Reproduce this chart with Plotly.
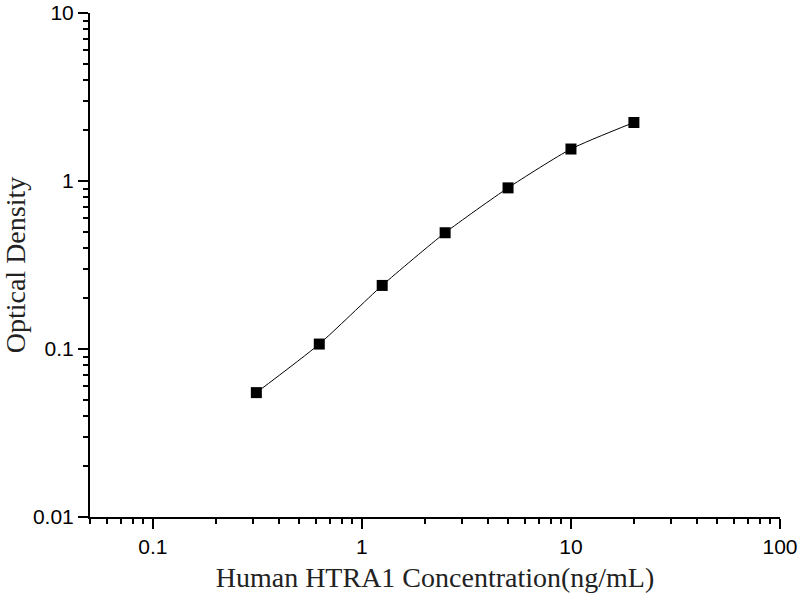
import plotly.graph_objects as go

# standard curve values
conc = [0.3125, 0.625, 1.25, 2.5, 5, 10, 20]
od = [0.055, 0.107, 0.239, 0.492, 0.91, 1.55, 2.23]

x_ticks = [0.1, 1, 10, 100]
x_labels = ["0.1", "1", "10", "100"]
y_ticks = [0.01, 0.1, 1, 10]
y_labels = ["0.01", "0.1", "1", "10"]

x_minor = [m * 10 ** k for k in (-2, -1, 0, 1) for m in range(2, 10)]
y_minor = [m * 10 ** k for k in (-2, -1, 0) for m in range(2, 10)]

fig = go.Figure()
fig.add_trace(go.Scatter(
    x=conc, y=od,
    mode="lines+markers",
    line=dict(color="black", width=1, shape="spline", smoothing=0.6),
    marker=dict(symbol="square", size=11, color="black"),
    showlegend=False,
))

axis_font = dict(family="Liberation Sans, Arial", size=21, color="black")
title_font = dict(family="Liberation Serif, Times New Roman", size=28, color="#222222")

fig.update_xaxes(
    type="log", range=[-1.301, 2],
    tickvals=x_ticks, ticktext=x_labels,
    ticks="outside", ticklen=10, tickwidth=2, tickcolor="black",
    minor=dict(tickvals=x_minor, ticks="outside", ticklen=5, tickwidth=2, tickcolor="black"),
    showline=True, linewidth=2, linecolor="black",
    showgrid=False, zeroline=False, automargin=False,
    ticklabeloverflow="allow",
    tickfont=axis_font,
    title=dict(text="Human HTRA1 Concentration(ng/mL)", font=title_font, standoff=10),
)
fig.update_yaxes(
    type="log", range=[-2, 1],
    tickvals=y_ticks, ticktext=y_labels,
    ticks="outside", ticklen=10, tickwidth=2, tickcolor="black",
    minor=dict(tickvals=y_minor, ticks="outside", ticklen=5, tickwidth=2, tickcolor="black"),
    showline=True, linewidth=2, linecolor="black",
    showgrid=False, zeroline=False, automargin=False,
    ticklabeloverflow="allow",
    tickfont=axis_font,
    title=dict(text="Optical Density", font=title_font, standoff=20),
)

fig.update_layout(
    width=800, height=600,
    plot_bgcolor="white", paper_bgcolor="white",
    margin=dict(l=90, r=20, t=13, b=83),
)

# drop the page's default body margin so the figure sits at the window corner
fig.write_html(
    "out.html",
    config={"displayModeBar": False},
    post_script="document.body.style.margin='0';",
)
